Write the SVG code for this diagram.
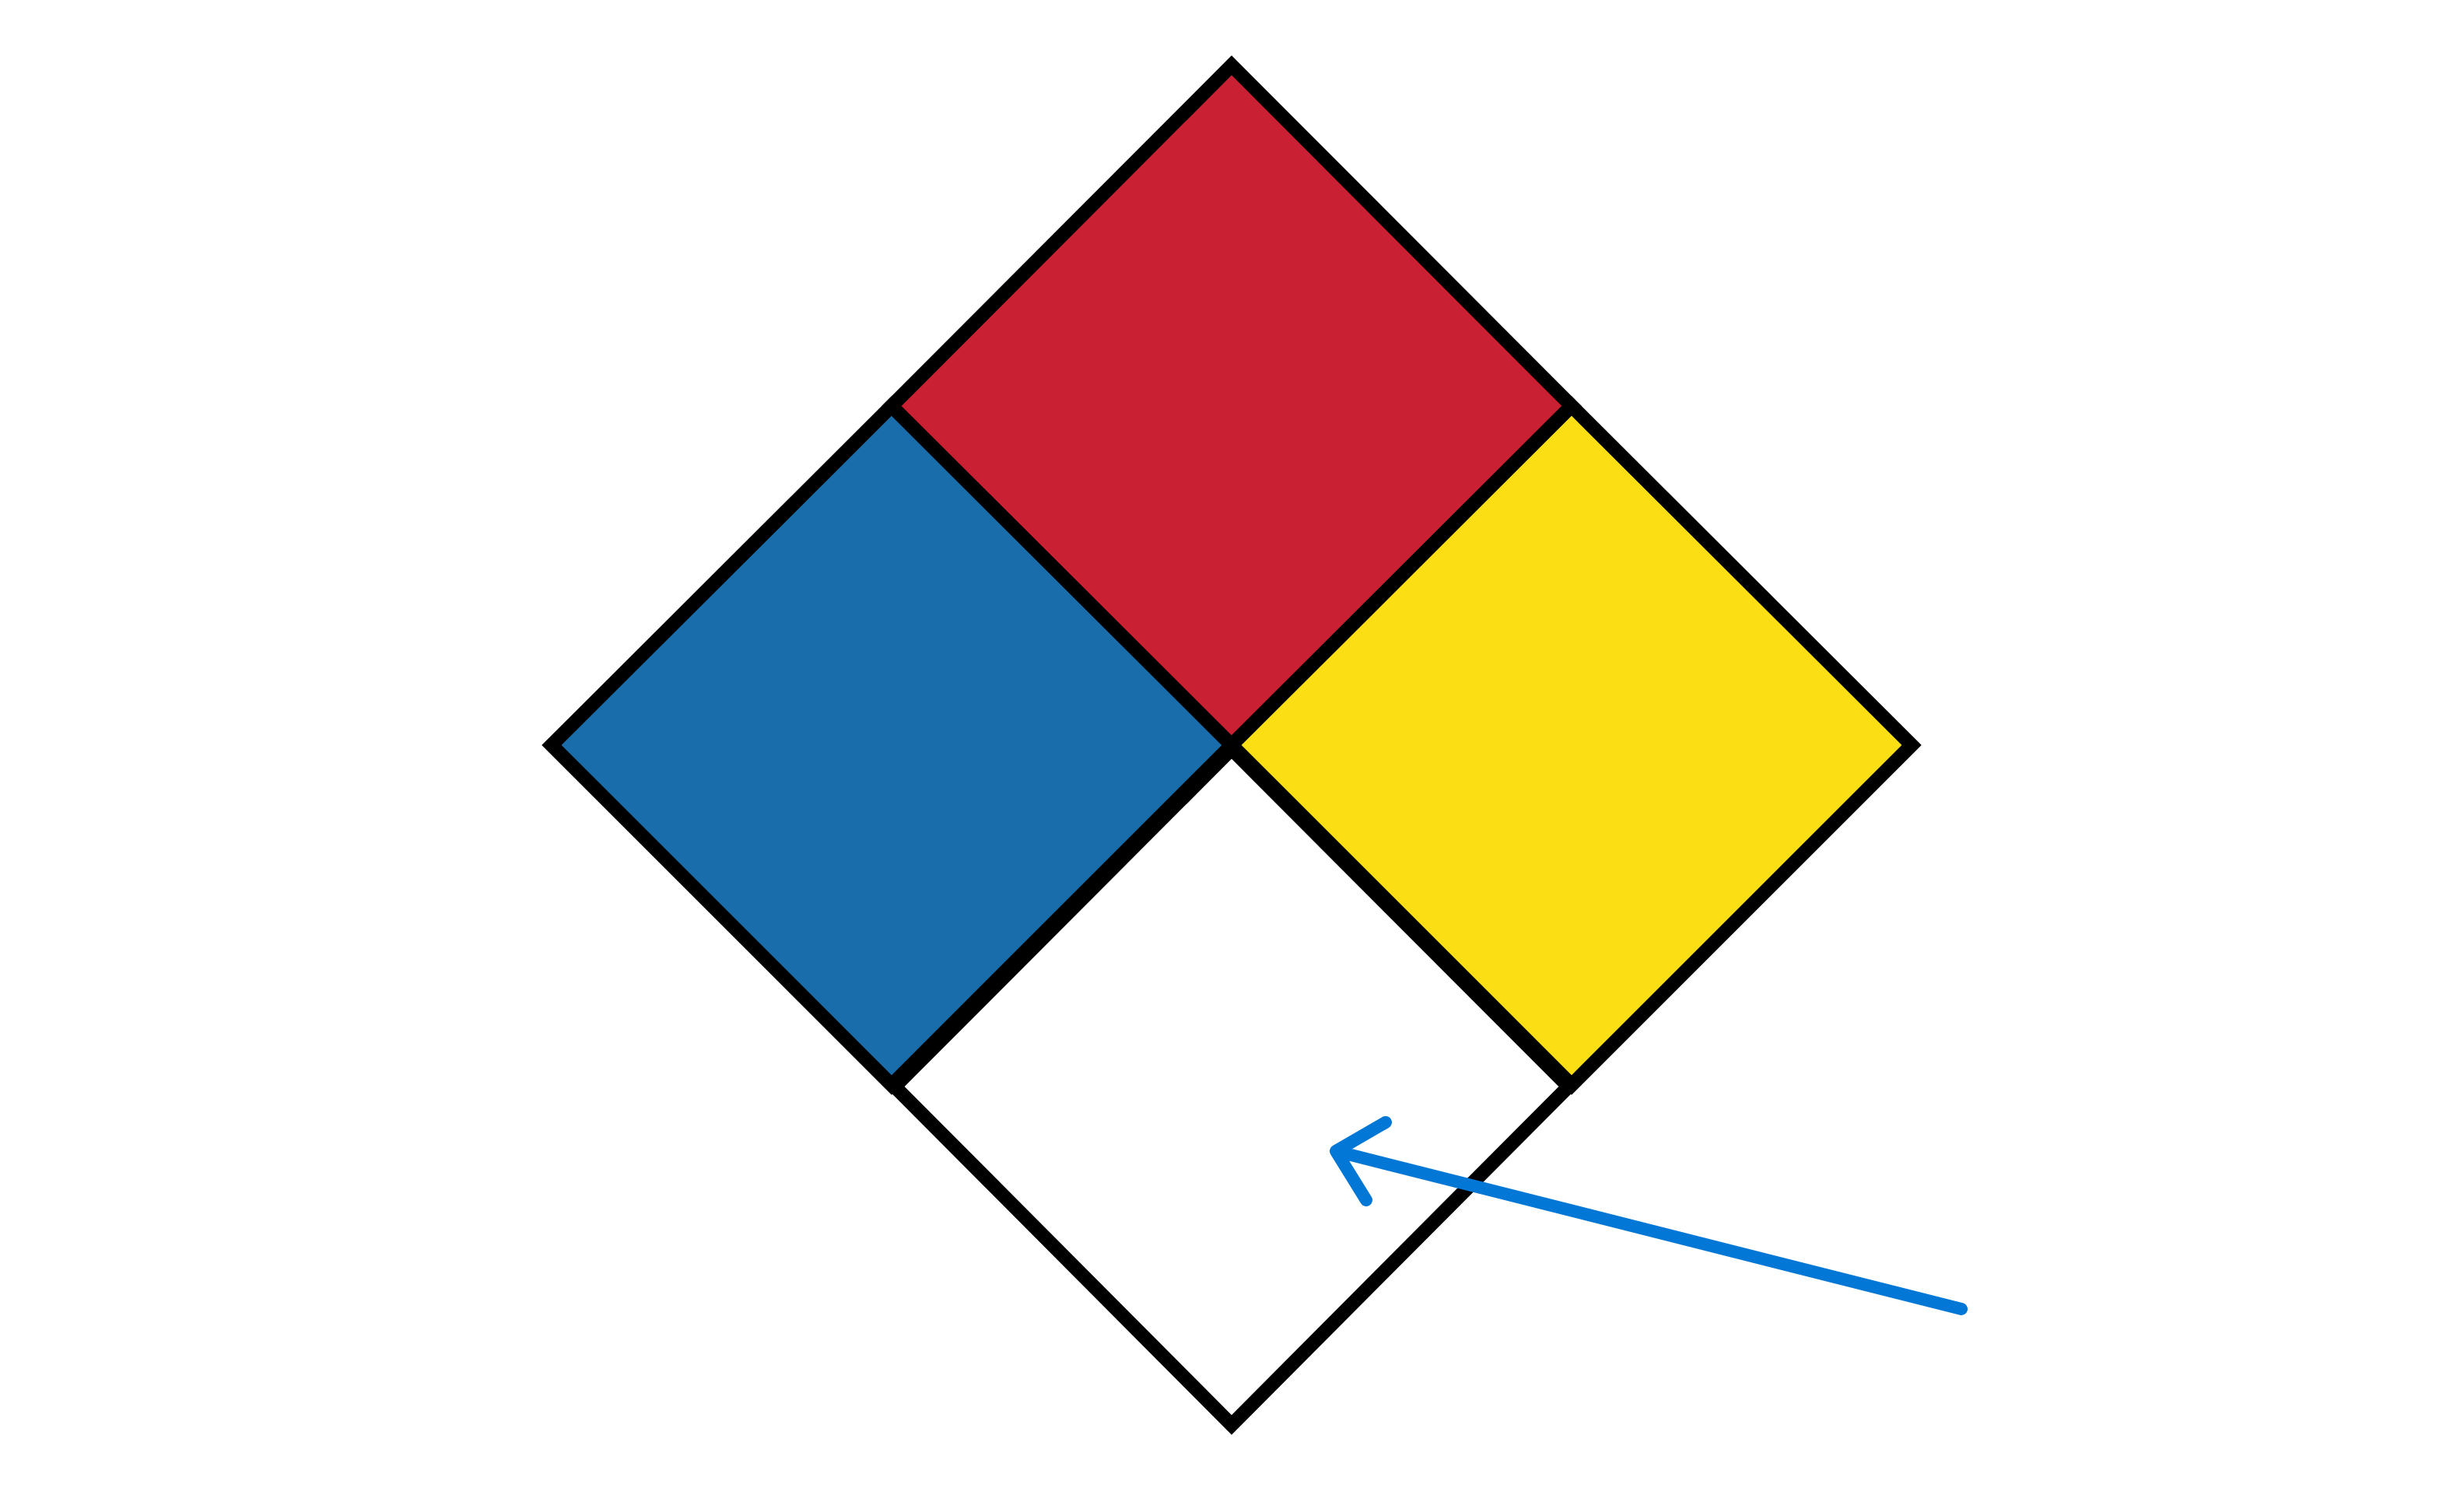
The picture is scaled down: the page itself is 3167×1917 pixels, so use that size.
<svg xmlns="http://www.w3.org/2000/svg" width="3167" height="1917" viewBox="0 0 3167 1917">
<style>
.q{stroke:#000;stroke-width:18;stroke-linejoin:miter;stroke-miterlimit:10}
.arrow{fill:none;stroke:#0277D6;stroke-width:16;stroke-linecap:round;stroke-linejoin:round}
</style>
<rect width="3167" height="1917" fill="#fff"/>
<g id="health">
<polygon class="q" fill="#196DAA" points="1146,522 1583,958 1146,1395 709,958"/>
</g>
<g id="flammability">
<polygon class="q" fill="#CA2033" points="1583,84 2020,522 1583,958 1146,522"/>
</g>
<g id="instability">
<polygon class="q" fill="#FCDE14" points="2020,522 2457,958 2020,1395 1583,958"/>
</g>
<g id="special">
<polygon class="q" fill="#fff" points="1583,963 2016,1397 1583,1832 1150,1397"/>
</g>
<g id="connectors">
<path class="arrow" d="M2521,1683 L1717,1480 M1781,1443 L1717,1480 L1756,1543"/>
</g>
</svg>
